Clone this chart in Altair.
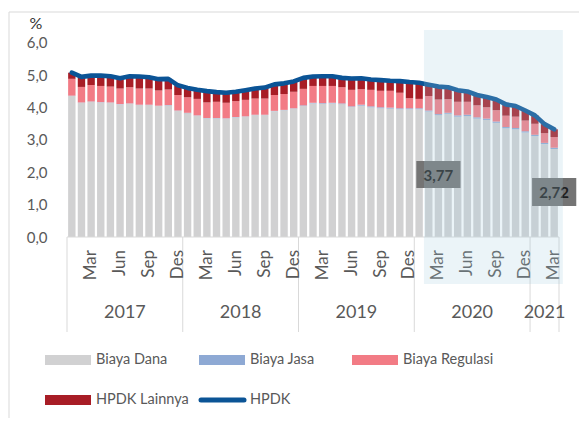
import altair as alt
import pandas as pd

# ---------------- data (Jan 2017 - Mar 2021, monthly) ----------------
years = ["2017", "2018", "2019", "2020", "2021"]
months_per_year = [12, 12, 12, 12, 3]
month_names = ["Jan", "Feb", "Mar", "Apr", "Mei", "Jun", "Jul", "Agu", "Sep", "Okt", "Nov", "Des"]
tick_months = ["Mar", "Jun", "Sep", "Des"]

biaya_dana = [4.36, 4.15, 4.18, 4.16, 4.15, 4.10, 4.12, 4.08, 4.08, 4.05, 4.07, 3.90,
              3.83, 3.75, 3.67, 3.67, 3.66, 3.70, 3.72, 3.77, 3.77, 3.89, 3.92, 3.97,
              4.05, 4.13, 4.12, 4.13, 4.11, 4.02, 4.06, 4.01, 3.98, 3.97, 3.95, 3.95,
              3.95, 3.88, 3.77, 3.81, 3.72, 3.74, 3.66, 3.62, 3.53, 3.36, 3.33, 3.23,
              3.12, 2.87, 2.72]
biaya_jasa = [0.01, 0.01, 0.01, 0.01, 0.01, 0.01, 0.01, 0.01, 0.01, 0.01, 0.01, 0.01,
              0.01, 0.01, 0.01, 0.01, 0.01, 0.01, 0.01, 0.01, 0.01, 0.01, 0.01, 0.01,
              0.02, 0.02, 0.02, 0.02, 0.02, 0.02, 0.03, 0.03, 0.03, 0.03, 0.03, 0.03,
              0.03, 0.03, 0.03, 0.03, 0.04, 0.04, 0.04, 0.04, 0.04, 0.04, 0.04, 0.04,
              0.04, 0.04, 0.04]
biaya_regulasi = [0.52, 0.48, 0.51, 0.50, 0.49, 0.48, 0.50, 0.50, 0.50, 0.47, 0.48, 0.48,
                  0.48, 0.51, 0.48, 0.50, 0.48, 0.49, 0.51, 0.50, 0.50, 0.49, 0.49, 0.51,
                  0.51, 0.52, 0.53, 0.52, 0.50, 0.51, 0.48, 0.51, 0.51, 0.52, 0.48, 0.31,
                  0.29, 0.45, 0.45, 0.42, 0.42, 0.40, 0.37, 0.35, 0.35, 0.35, 0.35, 0.33,
                  0.34, 0.30, 0.33]
hpdk_lainnya = [0.19, 0.31, 0.29, 0.32, 0.32, 0.32, 0.34, 0.37, 0.35, 0.35, 0.33, 0.30,
                0.29, 0.28, 0.35, 0.30, 0.31, 0.29, 0.30, 0.31, 0.34, 0.33, 0.33, 0.32,
                0.34, 0.29, 0.30, 0.30, 0.29, 0.35, 0.34, 0.32, 0.33, 0.31, 0.36, 0.50,
                0.50, 0.35, 0.40, 0.37, 0.36, 0.32, 0.32, 0.32, 0.33, 0.35, 0.33, 0.31,
                0.26, 0.28, 0.24]
hpdk = [5.08, 4.95, 4.99, 4.99, 4.97, 4.91, 4.97, 4.96, 4.94, 4.88, 4.89, 4.69,
        4.61, 4.55, 4.51, 4.48, 4.46, 4.49, 4.54, 4.59, 4.62, 4.72, 4.75, 4.81,
        4.92, 4.96, 4.97, 4.97, 4.92, 4.90, 4.91, 4.87, 4.85, 4.83, 4.82, 4.79,
        4.77, 4.71, 4.65, 4.63, 4.54, 4.50, 4.39, 4.33, 4.25, 4.10, 4.05, 3.91,
        3.76, 3.49, 3.33]

series_names = ["Biaya Dana", "Biaya Jasa", "Biaya Regulasi", "HPDK Lainnya"]
series_colors = ["#D1D1D2", "#8EA9D4", "#F27B85", "#A81D26"]
line_name = "HPDK"
line_color = "#0B5496"

annot_month = [("2020", "Mar"), ("2021", "Mar")]
annot_text = ["3,77", "2,72"]

# ---------------- styling constants ----------------
FONT = "Lato"
GREY_TXT = "#595959"
LINE_GREY = "#D9D9D9"
W, H = 502, 207
YMAX = 6.4

# ---------------- derived tables ----------------
periods = []
for y, n in zip(years, months_per_year):
    for m in range(n):
        periods.append((y, month_names[m]))
N = len(periods)

rows = []
for k, (name, vals) in enumerate(zip(series_names, [biaya_dana, biaya_jasa, biaya_regulasi, hpdk_lainnya])):
    for i, v in enumerate(vals):
        rows.append({"i": i, "series": name, "value": v, "ord": k})
bar_df = pd.DataFrame(rows)
line_df = pd.DataFrame({"i": list(range(N)), "value": hpdk})

xscale = alt.Scale(domain=[-0.5, N - 0.5], nice=False, zero=False)
yscale = alt.Scale(domain=[0, YMAX], nice=False, zero=True)
yaxis = alt.Axis(values=[0, 1, 2, 3, 4, 5, 6],
                 labelExpr="replace(format(datum.value, '.1f'), '.', ',')",
                 ticks=False, domain=False, grid=False, labelPadding=15,
                 labelFontSize=15, labelColor=GREY_TXT, labelFont=FONT, title=None)

layers = []

# chart frame
layers.append(alt.Chart(pd.DataFrame({"a": [0]})).mark_rect(
    fillOpacity=0, stroke=LINE_GREY, strokeWidth=1).encode(
    x=alt.value(-53), x2=alt.value(540), y=alt.value(-18), y2=alt.value(420)))

# stacked bars
layers.append(alt.Chart(bar_df).mark_bar(width=7.4).encode(
    x=alt.X("i:Q", scale=xscale, axis=None),
    y=alt.Y("value:Q", stack="zero", scale=yscale, axis=yaxis),
    color=alt.Color("series:N", scale=alt.Scale(domain=series_names, range=series_colors), legend=None),
    order=alt.Order("ord:Q", sort="ascending")))

# HPDK line
layers.append(alt.Chart(line_df).mark_line(
    color=line_color, strokeWidth=4.6, strokeCap="round", strokeJoin="round").encode(
    x=alt.X("i:Q", scale=xscale, axis=None),
    y=alt.Y("value:Q", scale=yscale, axis=yaxis)))

# category axis line
layers.append(alt.Chart(pd.DataFrame({"a": [-0.5], "b": [N - 0.5]})).mark_rule(
    color=LINE_GREY, strokeWidth=1).encode(
    x=alt.X("a:Q", scale=xscale, axis=None), x2="b:Q", y=alt.value(H)))

# year separators
bounds = [-0.5]
acc = 0
for n in months_per_year:
    acc += n
    bounds.append(acc - 0.5)
layers.append(alt.Chart(pd.DataFrame({"b": bounds})).mark_rule(
    color=LINE_GREY, strokeWidth=1).encode(
    x=alt.X("b:Q", scale=xscale, axis=None), y=alt.value(H), y2=alt.value(H + 95)))

# month labels
mdf = pd.DataFrame([{"i": i, "t": m} for i, (y, m) in enumerate(periods) if m in tick_months])
layers.append(alt.Chart(mdf).mark_text(
    angle=270, align="right", baseline="middle", fontSize=17, font=FONT, color=GREY_TXT).encode(
    x=alt.X("i:Q", scale=xscale, axis=None), y=alt.value(H + 13), text="t:N"))

# year labels
ydf_rows = []
start = 0
for y, n in zip(years, months_per_year):
    ydf_rows.append({"c": start + (n - 1) / 2, "t": y})
    start += n
layers.append(alt.Chart(pd.DataFrame(ydf_rows)).mark_text(
    align="center", baseline="middle", fontSize=18, font=FONT, color=GREY_TXT).encode(
    x=alt.X("c:Q", scale=xscale, axis=None), y=alt.value(H + 76), text="t:N"))

# annotation boxes
annot_box_y = [(131, 158), (148, 176)]
for (yr, mo), txt, (y0, y1) in zip(annot_month, annot_text, annot_box_y):
    idx = periods.index((yr, mo))
    adf = pd.DataFrame({"i": [idx], "t": [txt]})
    layers.append(alt.Chart(adf).transform_calculate(
        a="datum.i - 2.29", b="datum.i + 2.29").mark_rect(color="#747474").encode(
        x=alt.X("a:Q", scale=xscale, axis=None), x2="b:Q", y=alt.value(y0), y2=alt.value(y1)))
    layers.append(alt.Chart(adf).mark_text(
        align="center", baseline="middle", fontSize=15, fontWeight="bold", font=FONT, color="#1E1E1E").encode(
        x=alt.X("i:Q", scale=xscale, axis=None), y=alt.value((y0 + y1) / 2 + 1), text="t:N"))

# 2020-2021 highlight band
shade_start = periods.index(("2020", "Feb")) - 0.5
layers.append(alt.Chart(pd.DataFrame({"a": [shade_start], "b": [N - 0.1]})).mark_rect(
    color="#A5CDE0", opacity=0.22).encode(
    x=alt.X("a:Q", scale=xscale, axis=None), x2="b:Q", y=alt.value(0), y2=alt.value(254)))

# "%" unit label
layers.append(alt.Chart(pd.DataFrame({"t": ["%"]})).mark_text(
    align="center", baseline="middle", fontSize=16, font=FONT, color="#333333").encode(
    x=alt.value(-26), y=alt.value(-6), text="t:N"))

# legend (manual)
legend_names = series_names + [line_name]
legend_colors = series_colors + [line_color]
legend_pos = [(-17, 330), (137, 330), (290, 330), (-17, 370), (137, 370)]
for name, col, (lx, ly) in zip(legend_names, legend_colors, legend_pos):
    ldf = pd.DataFrame({"t": [name]})
    if name == line_name:
        layers.append(alt.Chart(ldf).mark_rule(color=col, strokeWidth=5, strokeCap="round").encode(
            x=alt.value(lx + 2), x2=alt.value(lx + 45), y=alt.value(ly)))
    else:
        layers.append(alt.Chart(ldf).mark_rect(color=col).encode(
            x=alt.value(lx), x2=alt.value(lx + 46), y=alt.value(ly - 5), y2=alt.value(ly + 5)))
    layers.append(alt.Chart(ldf).mark_text(
        align="left", baseline="middle", fontSize=14.5, font=FONT, color=GREY_TXT).encode(
        x=alt.value(lx + 51), y=alt.value(ly), text="t:N"))

chart = alt.layer(*layers).properties(
    width=W, height=H,
    padding={"left": 54, "top": 22, "right": 15, "bottom": 181},
    autosize=alt.AutoSizeParams(type="none"),
).configure_view(strokeWidth=0)

chart.save("out.html", embed_options={"renderer": "svg", "actions": False})
